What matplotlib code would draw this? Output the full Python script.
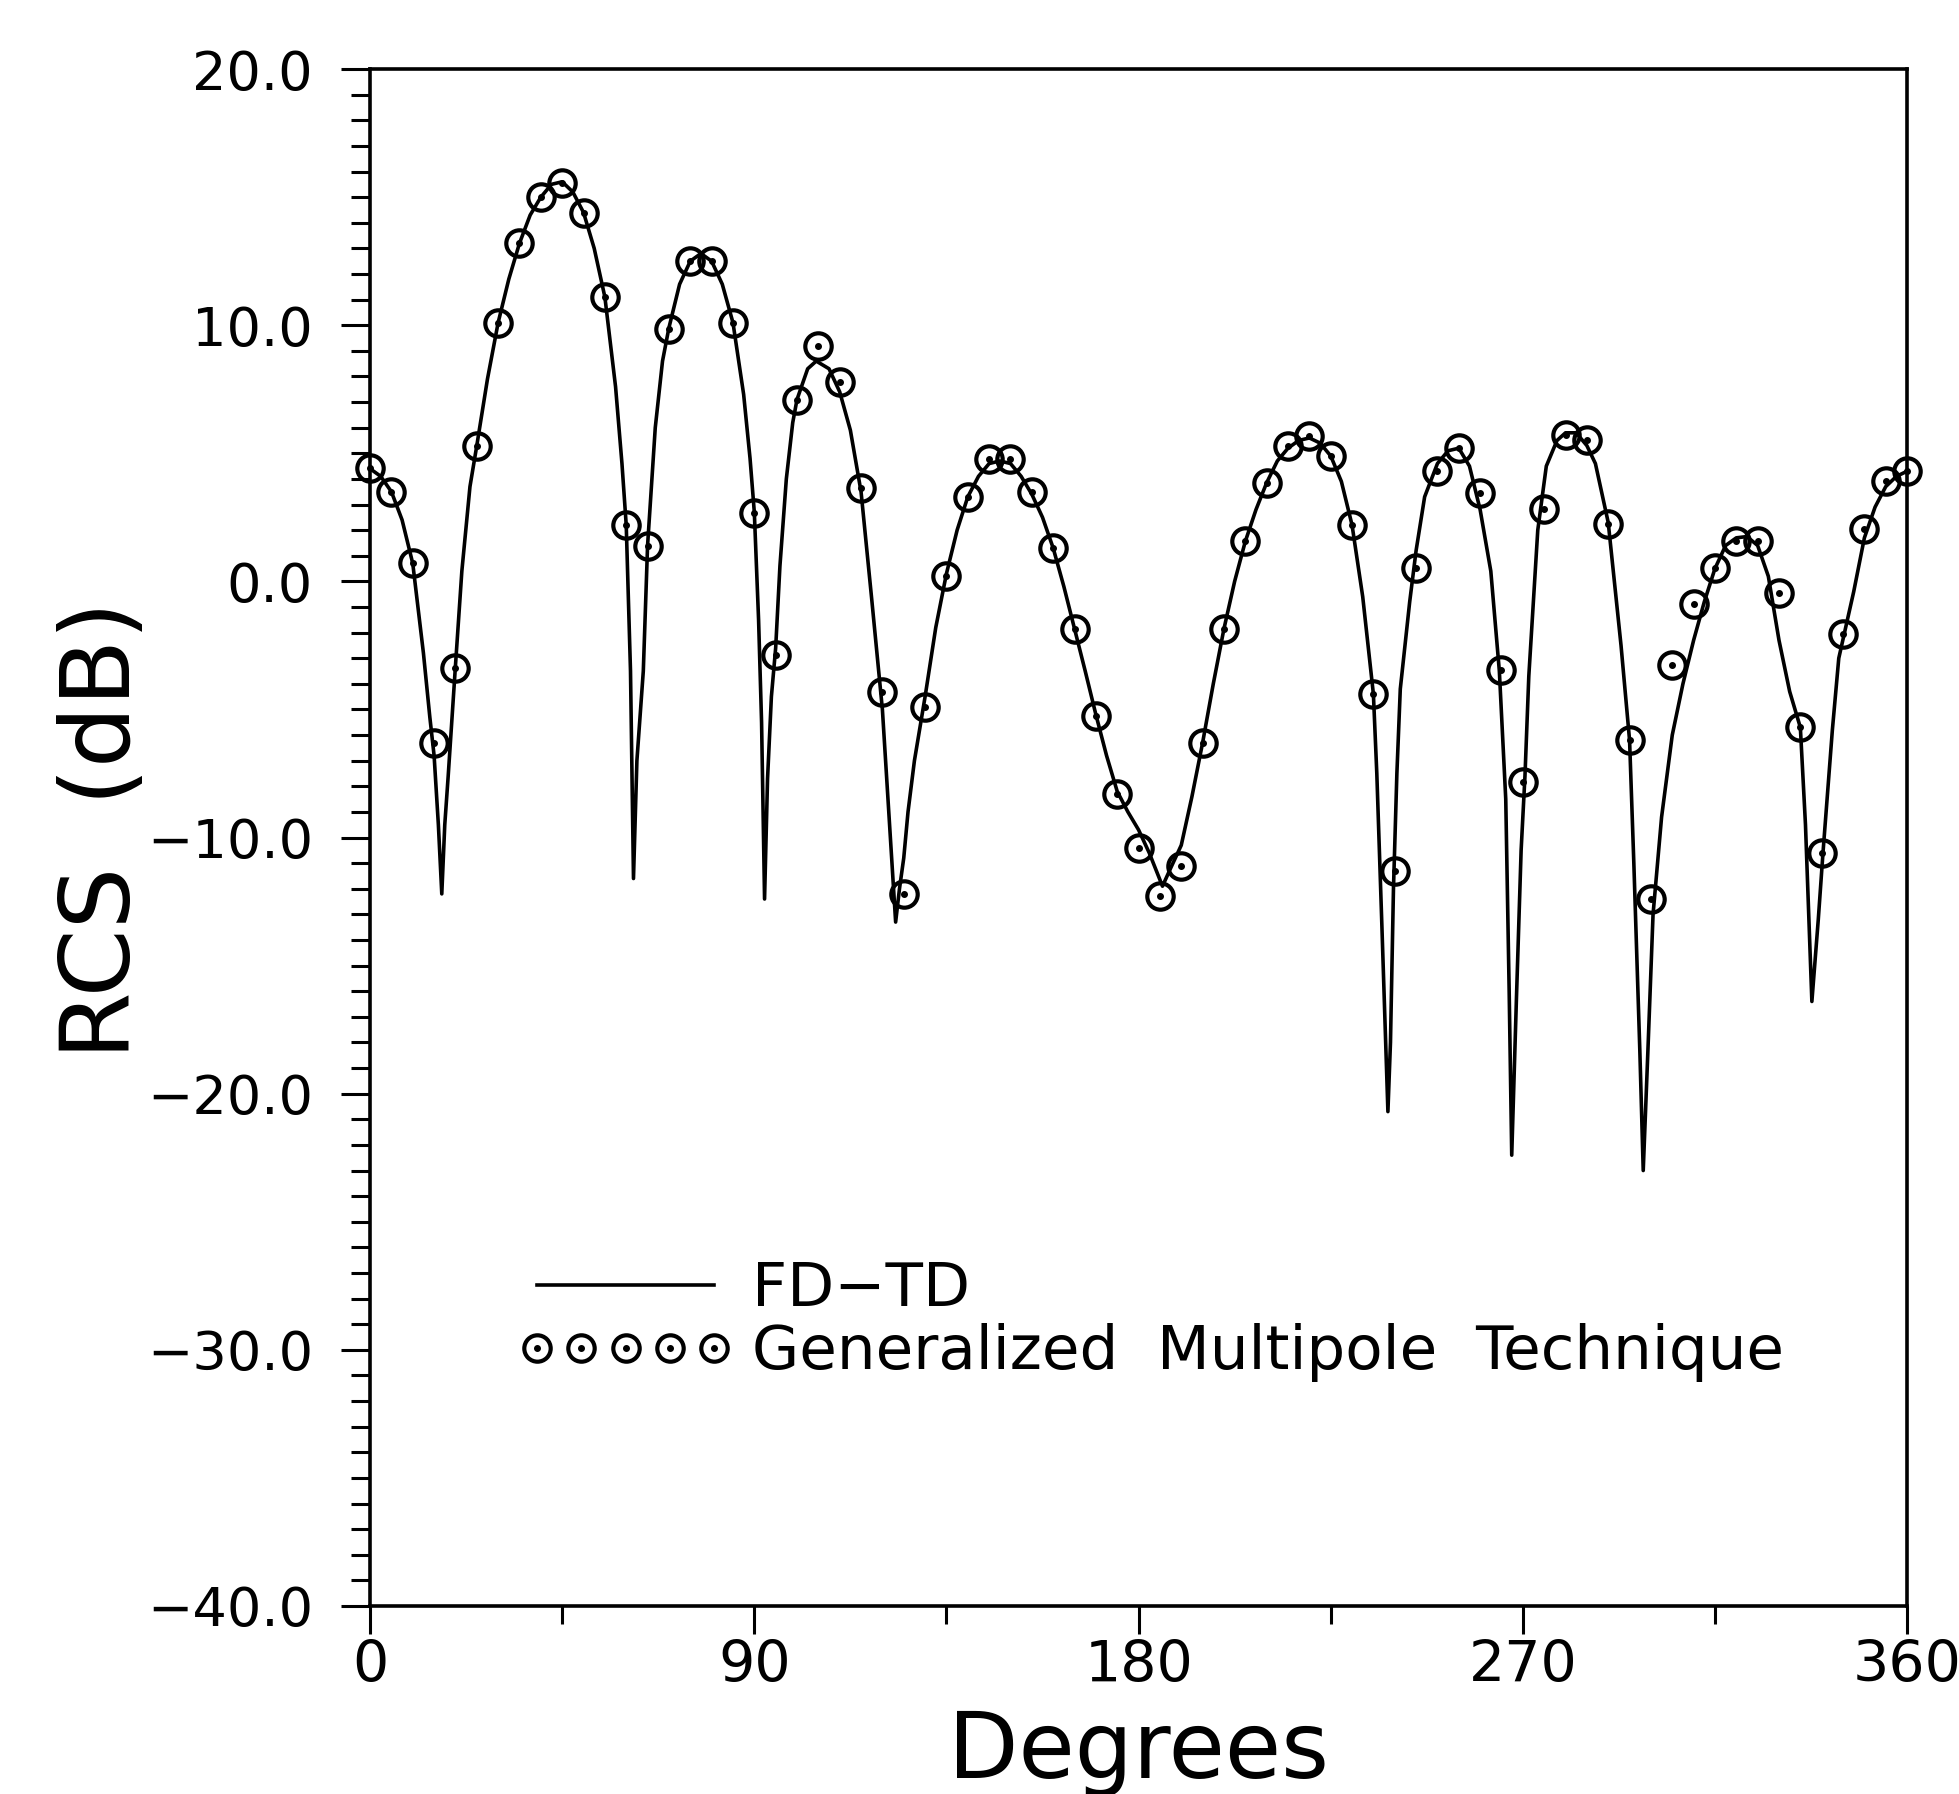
#!/usr/bin/env python3
# -*- coding: utf-8 -*-

import matplotlib
matplotlib.use('Agg')
import matplotlib.pyplot as plt
from matplotlib.ticker import MultipleLocator, FuncFormatter

# FD-TD curve (degrees, dB)
fdtd_deg = [0, 2.5, 5, 7.5, 10, 12.5, 14, 15, 16, 16.8, 17.5, 18.3, 20, 21.5, 23.4,
            25, 27.5, 30, 32.5, 35, 37.5, 40, 42.5, 45, 47.5, 50, 52.5, 55, 57.5,
            59, 60, 61, 61.7, 62.5, 64, 65, 66.8, 68.5, 70, 72.5, 75, 77.5, 80,
            82.5, 85, 87.5, 89, 90, 91, 91.7, 92.4, 93.1, 94, 95, 96, 97.5, 99,
            100, 102.5, 104.5, 107.5, 110, 112.5, 115, 117.5, 120, 121.8, 123.1,
            124, 125, 126, 127.5, 130, 132.5, 135, 137.5, 140, 142.5, 145, 147.5,
            150, 152.5, 155, 157.5, 160, 162.5, 165, 167.5, 170, 172.5, 175,
            177.5, 180, 182.5, 185.6, 187.5, 190, 192.5, 195, 197.5, 200, 202.5,
            205, 207.5, 210, 212.5, 215, 217.5, 220, 222.5, 225, 227.5, 230,
            232.5, 235, 235.8, 237, 238.4, 239, 239.7, 240.5, 241.3, 243.5, 245,
            247, 250, 252.5, 255, 257.5, 260, 262.5, 264.5, 266, 266.8, 267.4,
            268.5, 269.6, 270.5, 271.4, 273.5, 275.5, 278, 280, 282.5, 285, 287,
            290, 293, 295, 296, 297.4, 298.2, 299.3, 300.5, 302.5, 305, 307.5,
            310, 312.5, 315, 317.5, 320, 322.5, 325, 327.5, 330, 332.5, 335,
            336.2, 337.7, 339.2, 340.3, 342.5, 344, 347.5, 350, 352.5, 355,
            357.5, 360]
fdtd_db = [4.4, 4.1, 3.5, 2.4, 0.7, -2.8, -5.3, -6.8, -9.5, -12.2, -9.5, -7.6, -3.3,
           0.4, 3.7, 5.3, 7.9, 10.1, 11.8, 13.2, 14.3, 15.0, 15.5, 15.6, 15.2, 14.4,
           13.0, 11.1, 7.6, 4.6, 2.2, -3.5, -11.6, -7.0, -3.5, 1.4, 6.0, 8.6, 9.9,
           11.6, 12.5, 12.8, 12.5, 11.6, 10.1, 7.3, 4.8, 2.7, -1.5, -5.5, -12.4,
           -7.7, -4.5, -2.6, 0.6, 4.0, 6.2, 7.1, 8.3, 8.6, 8.3, 7.4, 5.9, 3.5, -0.7,
           -5.0, -9.8, -13.3, -12.0, -10.8, -9.0, -7.0, -4.5, -1.8, 0.3, 2.0, 3.3,
           4.1, 4.6, 4.7, 4.6, 4.1, 3.4, 2.5, 1.3, -0.2, -1.85, -3.5, -5.2, -6.8,
           -8.2, -9.0, -9.7, -10.6, -11.9, -11.2, -10.3, -8.4, -6.3, -4.0, -1.85,
           0.0, 1.56, 2.8, 3.85, 4.7, 5.2, 5.5, 5.6, 5.4, 4.9, 3.9, 2.2, -0.6, -4.4,
           -7.5, -13.5, -20.7, -18.0, -12.0, -7.5, -4.2, -0.8, 1.2, 3.3, 4.6, 5.1,
           5.2, 4.5, 2.8, 0.4, -3.5, -8.5, -16.0, -22.4, -16.3, -10.5, -7.6, -3.7,
           2.0, 4.5, 5.5, 5.8, 5.8, 5.3, 4.6, 2.3, -2.5, -6.2, -11.0, -18.3, -23.0,
           -18.3, -13.0, -9.2, -6.0, -4.0, -2.3, -0.8, 0.5, 1.4, 1.7, 1.75, 1.4,
           0.2, -2.3, -4.3, -5.7, -9.5, -16.4, -13.2, -10.6, -5.8, -3.0, -0.4, 1.7,
           2.9, 3.7, 4.1, 4.3]

# Generalized Multipole Technique samples, every 5 degrees
gmt_deg = list(range(0, 361, 5))
gmt_db = [4.44, 3.5, 0.73, -6.3, -3.4, 5.27, 10.1, 13.2, 15.0, 15.56, 14.4, 11.1,
          2.2, 1.37, 9.85, 12.5, 12.5, 10.1, 2.68, -2.88, 7.1, 9.17, 7.8, 3.66,
          -4.3, -12.2, -4.9, 0.2, 3.3, 4.78, 4.78, 3.5, 1.3, -1.85, -5.27, -8.3,
          -10.4, -12.3, -11.1, -6.3, -1.85, 1.56, 3.85, 5.27, 5.66, 4.88, 2.2,
          -4.4, -11.3, 0.54, 4.3, 5.2, 3.46, -3.46, -7.85, 2.83, 5.7, 5.5, 2.24,
          -6.2, -12.4, -3.27, -0.88, 0.54, 1.56, 1.56, -0.44, -5.7, -10.6, -2.05,
          2.05, 3.9, 4.3]

x_ticks = [0, 90, 180, 270, 360]


def fmt_db(v, pos):
    return f"{v:.1f}".replace('-', '\u2212')


fig = plt.figure(figsize=(19.59, 17.94), dpi=100)
ax = fig.add_axes([0.1889, 0.1048, 0.7846, 0.8567])

line, = ax.plot(fdtd_deg, fdtd_db, color='black', lw=2.6)
rings, = ax.plot(gmt_deg, gmt_db, ls='none', marker='o', ms=19, mfc='none',
                 mec='black', mew=3.0, clip_on=False)
dots, = ax.plot(gmt_deg, gmt_db, ls='none', marker='o', ms=4, color='black',
                clip_on=False)

ax.set_xlim(0, 360)
ax.set_ylim(-40, 20)
ax.set_xticks(x_ticks)
ax.xaxis.set_minor_locator(MultipleLocator(45))
ax.yaxis.set_major_locator(MultipleLocator(10))
ax.yaxis.set_minor_locator(MultipleLocator(1))
ax.yaxis.set_major_formatter(FuncFormatter(fmt_db))

for s in ax.spines.values():
    s.set_linewidth(2.6)
ax.tick_params(which='both', direction='out', width=2.2, top=False, right=False)
ax.tick_params(axis='y', which='major', length=21, pad=20, labelsize=39)
ax.tick_params(axis='y', which='minor', length=14)
ax.tick_params(axis='x', which='major', length=20, pad=4, labelsize=41)
ax.tick_params(axis='x', which='minor', length=13)

ax.set_ylabel('RCS  (dB)', fontsize=70)
ax.yaxis.set_label_coords(-0.143, 0.505)
ax.set_xlabel('Degrees', fontsize=66, va='baseline')
ax.xaxis.set_label_coords(0.5, -0.112)

ax.legend([line, (rings, dots)],
          ['FD\u2212TD', 'Generalized  Multipole  Technique'],
          numpoints=5, handlelength=3.49, handletextpad=0.33,
          labelspacing=0.07, fontsize=44, frameon=False, loc='upper left',
          bbox_to_anchor=(0.0969, 0.225), borderpad=0, borderaxespad=0)

fig.savefig('out.png', dpi=100)
